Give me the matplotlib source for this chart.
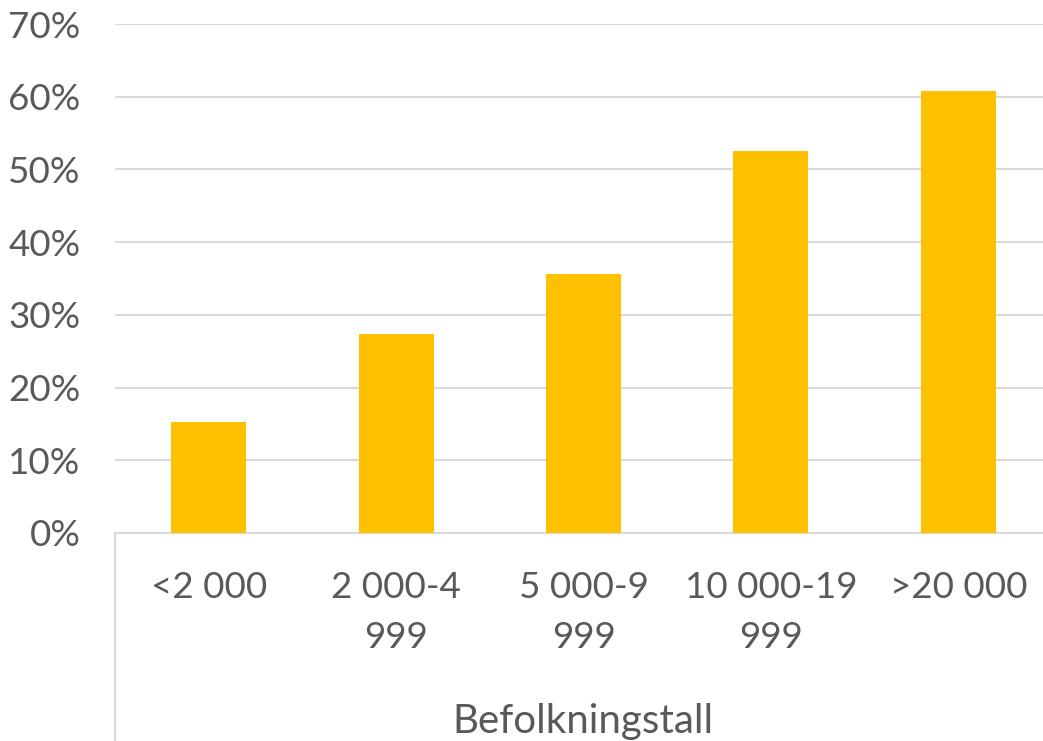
import matplotlib.pyplot as plt
from matplotlib.lines import Line2D

###############################################################################
categories = ["<2 000", "2 000-4\n999", "5 000-9\n999", "10 000-19\n999", ">20 000"]
values = [15.3, 27.4, 35.6, 52.5, 60.8]
yticks = [0, 10, 20, 30, 40, 50, 60, 70]
ytick_labels = ["0%", "10%", "20%", "30%", "40%", "50%", "60%", "70%"]
###############################################################################

plt.rcParams['font.family'] = ['Lato', 'DejaVu Sans']
plt.rcParams['font.size'] = 26.5

fig = plt.figure(figsize=(10.43, 7.41), dpi=100)
# axes runs slightly past the right edge, like the original
ax = fig.add_axes([115 / 1043, (741 - 533) / 741, (1052 - 115) / 1043, (533 - 24) / 741])

x = range(len(categories))
ax.bar(x, values, width=0.4, color='#FFC000', zorder=3)

ax.set_xlim(-0.5, len(categories) - 0.5)
ax.set_ylim(0, 70)
ax.set_yticks(yticks)
ax.set_yticklabels(ytick_labels, color='#595959')
ax.set_xticks(list(x))
ax.set_xticklabels(categories, color='#595959', linespacing=1.65, va='top')
ax.tick_params(axis='both', length=0)
ax.tick_params(axis='y', pad=25)
ax.tick_params(axis='x', pad=27)

ax.grid(axis='y', color='#D9D9D9', linewidth=1.5, zorder=0)
for side in ['top', 'right', 'left']:
    ax.spines[side].set_visible(False)
ax.spines['bottom'].set_color('#D9D9D9')
ax.spines['bottom'].set_linewidth(1.5)

# outer line of the category axis
ax.add_line(Line2D([0, 0], [0, -0.45], transform=ax.transAxes, color='#D9D9D9',
                   linewidth=1.5, clip_on=False))

fig.text(583 / 1043, 1 - 722 / 741, 'Befolkningstall', ha='center', va='center',
         color='#595959', fontsize=29)

plt.savefig('out.png', dpi=100)
